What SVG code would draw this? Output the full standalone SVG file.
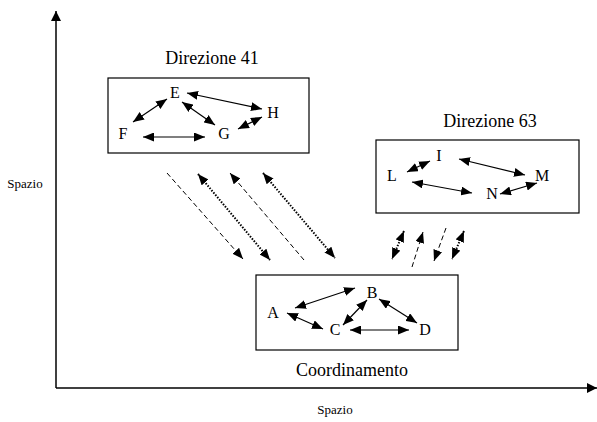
<svg xmlns="http://www.w3.org/2000/svg" width="597" height="422" viewBox="0 0 597 422">
  <defs>
    <marker id="head" viewBox="0 0 11 9" refX="11" refY="4.5" markerWidth="11" markerHeight="9" markerUnits="userSpaceOnUse" orient="auto-start-reverse">
      <path d="M0,0 L11,4.5 L0,9 Z" fill="#000"/>
    </marker>
    <marker id="axis" viewBox="0 0 10 10" refX="10" refY="5" markerWidth="10" markerHeight="10" markerUnits="userSpaceOnUse" orient="auto">
      <path d="M0,0 L10,5 L0,10 Z" fill="#000"/>
    </marker>
  </defs>
  <style>
    text { font-family: "Liberation Serif", "Times New Roman", serif; fill: #000; }
    .title { font-size: 18px; text-anchor: middle; }
    .node { font-size: 16px; text-anchor: middle; }
    .small { font-size: 13px; text-anchor: middle; }
    .box { fill: #fff; stroke: #000; stroke-width: 1.2; }
    .rel { stroke: #000; stroke-width: 1.2; fill: none; marker-start: url(#head); marker-end: url(#head); }
    .flow { stroke: #000; stroke-width: 1; fill: none; }
    .dash { stroke-dasharray: 5 3; }
    .dot { stroke-width: 2; stroke-dasharray: 1.5 1.5; }
  </style>

  <rect width="597" height="422" fill="#fff"/>

  <!-- axes -->
  <g id="axes">
    <line x1="56" y1="388" x2="56" y2="11" stroke="#000" stroke-width="1.5" marker-end="url(#axis)"/>
    <line x1="56" y1="388" x2="597" y2="388" stroke="#000" stroke-width="1.5" marker-end="url(#axis)"/>
    <text class="small" x="25" y="188">Spazio</text>
    <text class="small" x="335" y="414">Spazio</text>
  </g>

  <!-- Direzione 41 -->
  <g id="direzione41">
    <text class="title" x="212" y="64">Direzione 41</text>
    <rect class="box" x="108" y="78" width="201" height="75"/>
    <text class="node" x="175" y="98">E</text>
    <text class="node" x="123" y="139">F</text>
    <text class="node" x="224" y="139">G</text>
    <text class="node" x="273" y="118">H</text>
    <line class="rel" x1="133" y1="122" x2="167" y2="99"/>
    <line class="rel" x1="182" y1="102" x2="215" y2="125"/>
    <line class="rel" x1="187" y1="93" x2="262" y2="109"/>
    <line class="rel" x1="238" y1="129" x2="262" y2="117"/>
    <line class="rel" x1="143" y1="137" x2="205" y2="137"/>
  </g>

  <!-- Direzione 63 -->
  <g id="direzione63">
    <text class="title" x="490" y="127">Direzione 63</text>
    <rect class="box" x="376" y="140" width="203" height="73"/>
    <text class="node" x="439" y="161">I</text>
    <text class="node" x="392" y="181">L</text>
    <text class="node" x="542" y="181">M</text>
    <text class="node" x="492" y="199">N</text>
    <line class="rel" x1="407" y1="172" x2="430" y2="161"/>
    <line class="rel" x1="459" y1="159" x2="525" y2="175"/>
    <line class="rel" x1="412" y1="182" x2="472" y2="193"/>
    <line class="rel" x1="500" y1="194" x2="537" y2="183"/>
  </g>

  <!-- Coordinamento -->
  <g id="coordinamento">
    <rect class="box" x="256" y="275" width="202" height="75"/>
    <text class="node" x="273" y="318">A</text>
    <text class="node" x="372" y="298">B</text>
    <text class="node" x="335" y="335">C</text>
    <text class="node" x="425" y="335">D</text>
    <line class="rel" x1="295" y1="308" x2="355" y2="288"/>
    <line class="rel" x1="287" y1="313" x2="323" y2="329"/>
    <line class="rel" x1="343" y1="325" x2="367" y2="300"/>
    <line class="rel" x1="379" y1="299" x2="417" y2="323"/>
    <line class="rel" x1="350" y1="330" x2="409" y2="330"/>
    <text class="title" x="352" y="376">Coordinamento</text>
  </g>

  <!-- flows between Direzione 41/63 and Coordinamento -->
  <g id="connectors">
    <line class="flow dash" x1="167" y1="173" x2="243" y2="259" marker-end="url(#head)"/>
    <line class="flow dot" x1="198" y1="174" x2="270" y2="260" marker-start="url(#head)" marker-end="url(#head)"/>
    <line class="flow dash" x1="304" y1="260" x2="230" y2="173" marker-end="url(#head)"/>
    <line class="flow dot" x1="263" y1="173" x2="335" y2="258" marker-start="url(#head)" marker-end="url(#head)"/>

    <line class="flow dot" x1="404" y1="231" x2="392" y2="259" marker-start="url(#head)" marker-end="url(#head)"/>
    <line class="flow dash" x1="412" y1="267" x2="423" y2="232" marker-end="url(#head)"/>
    <line class="flow dash" x1="446" y1="228" x2="434" y2="261" marker-end="url(#head)"/>
    <line class="flow dot" x1="464" y1="231" x2="452" y2="259" marker-start="url(#head)" marker-end="url(#head)"/>
  </g>
</svg>
